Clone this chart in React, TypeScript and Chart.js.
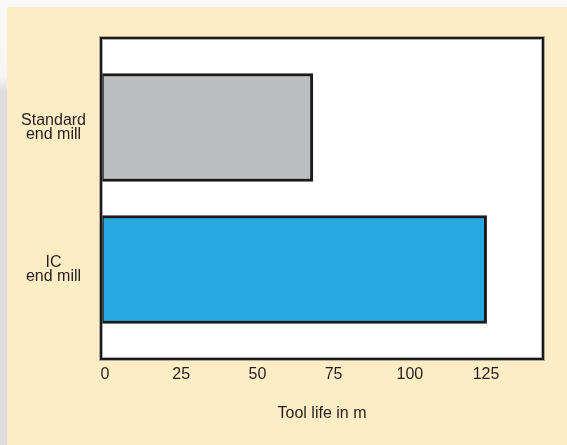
import React, { useEffect, useRef } from 'react';
import { Chart, registerables } from 'chart.js';

Chart.register(...registerables);

const CATEGORIES: string[][] = [['Standard', 'end mill'], ['IC', 'end mill']];
const TOOL_LIFE: number[] = [69.5, 126.5];
const BAR_COLORS: string[] = ['#bdbec0', '#29a9e1'];
const X_TICKS: number[] = [0, 25, 50, 75, 100, 125];
const X_TITLE = 'Tool life in m';

const FONT = '"Liberation Sans", Arial, Helvetica, sans-serif';
const TEXT = '#231f20';

export default function App() {
  const ref = useRef<HTMLCanvasElement>(null);

  useEffect(() => {
    if (!ref.current) return;
    const boxPlugin = {
      id: 'plotBox',
      beforeDatasetsDraw(chart: any) {
        const { ctx, chartArea: a } = chart;
        ctx.save();
        ctx.fillStyle = '#ffffff';
        ctx.fillRect(a.left, a.top, a.right - a.left, a.bottom - a.top);
        ctx.restore();
      },
      afterDatasetsDraw(chart: any) {
        const { ctx, chartArea: a } = chart;
        ctx.save();
        ctx.strokeStyle = 'rgba(120,120,120,0.6)';
        ctx.lineWidth = 4;
        ctx.strokeRect(a.left, a.top, a.right - a.left, a.bottom - a.top);
        ctx.strokeStyle = '#1a1a1a';
        ctx.lineWidth = 2;
        ctx.strokeRect(a.left, a.top, a.right - a.left, a.bottom - a.top);
        ctx.restore();
      },
    };

    const chart = new Chart(ref.current, {
      type: 'bar',
      data: {
        datasets: [
          {
            data: TOOL_LIFE.map((v, i) => ({ x: v, y: i })) as any,
            backgroundColor: BAR_COLORS,
            borderColor: '#1a1a1a',
            borderWidth: 3,
            borderSkipped: false,
            barThickness: 108,
          },
        ],
      },
      options: {
        indexAxis: 'y',
        animation: false,
        responsive: false,
        devicePixelRatio: 1,
        layout: { padding: { top: 38, right: 24, left: 0, bottom: 0 } },
        plugins: {
          legend: { display: false },
          tooltip: { enabled: false },
        },
        scales: {
          x: {
            type: 'linear',
            min: 0,
            max: 145,
            offset: false,
            grid: { display: false, drawTicks: false },
            border: { display: false },
            afterBuildTicks: (s: any) => {
              s.ticks = X_TICKS.map((v) => ({ value: v }));
            },
            afterFit: (s: any) => {
              s.height = 86;
            },
            ticks: {
              autoSkip: false,
              maxRotation: 0,
              padding: 6,
              labelOffset: 4,
              color: TEXT,
              font: { family: FONT, size: 16 },
            },
            title: {
              display: true,
              text: X_TITLE,
              color: TEXT,
              font: { family: FONT, size: 16 },
              padding: { top: 0, bottom: 22 },
            },
          },
          y: {
            type: 'linear',
            reverse: true,
            min: -0.63,
            max: 1.63,
            offset: false,
            grid: { display: false, drawTicks: false, offset: false },
            border: { display: false },
            afterBuildTicks: (s: any) => {
              s.ticks = CATEGORIES.map((_, i) => ({ value: i }));
            },
            afterFit: (s: any) => {
              s.width = 101;
            },
            ticks: {
              autoSkip: false,
              crossAlign: 'center',
              padding: 15,
              color: TEXT,
              font: { family: FONT, size: 16, lineHeight: 0.9 },
              callback: (_v: any, i: number) => CATEGORIES[i],
            },
          },
        },
      } as any,
      plugins: [boxPlugin],
    });
    return () => chart.destroy();
  }, []);

  return (
    <div style={{ position: 'fixed', left: 0, top: 0, width: 567, height: 445, background: '#f8f8f8', overflow: 'hidden' }}>
      <div
        style={{
          position: 'absolute',
          left: 0,
          top: 0,
          width: 7,
          height: 445,
          background: 'linear-gradient(to bottom, #f8f8f8 0px, #f6f6f6 76px, #dcdde0 92px, #dcdde0 445px)',
        }}
      />
      <div style={{ position: 'absolute', left: 7, top: 7, right: 0, bottom: 0, background: '#feedc4' }} />
      <canvas
        ref={ref}
        width={567}
        height={445}
        style={{ position: 'absolute', left: 0, top: 0, width: 567, height: 445, display: 'block' }}
      />
    </div>
  );
}
